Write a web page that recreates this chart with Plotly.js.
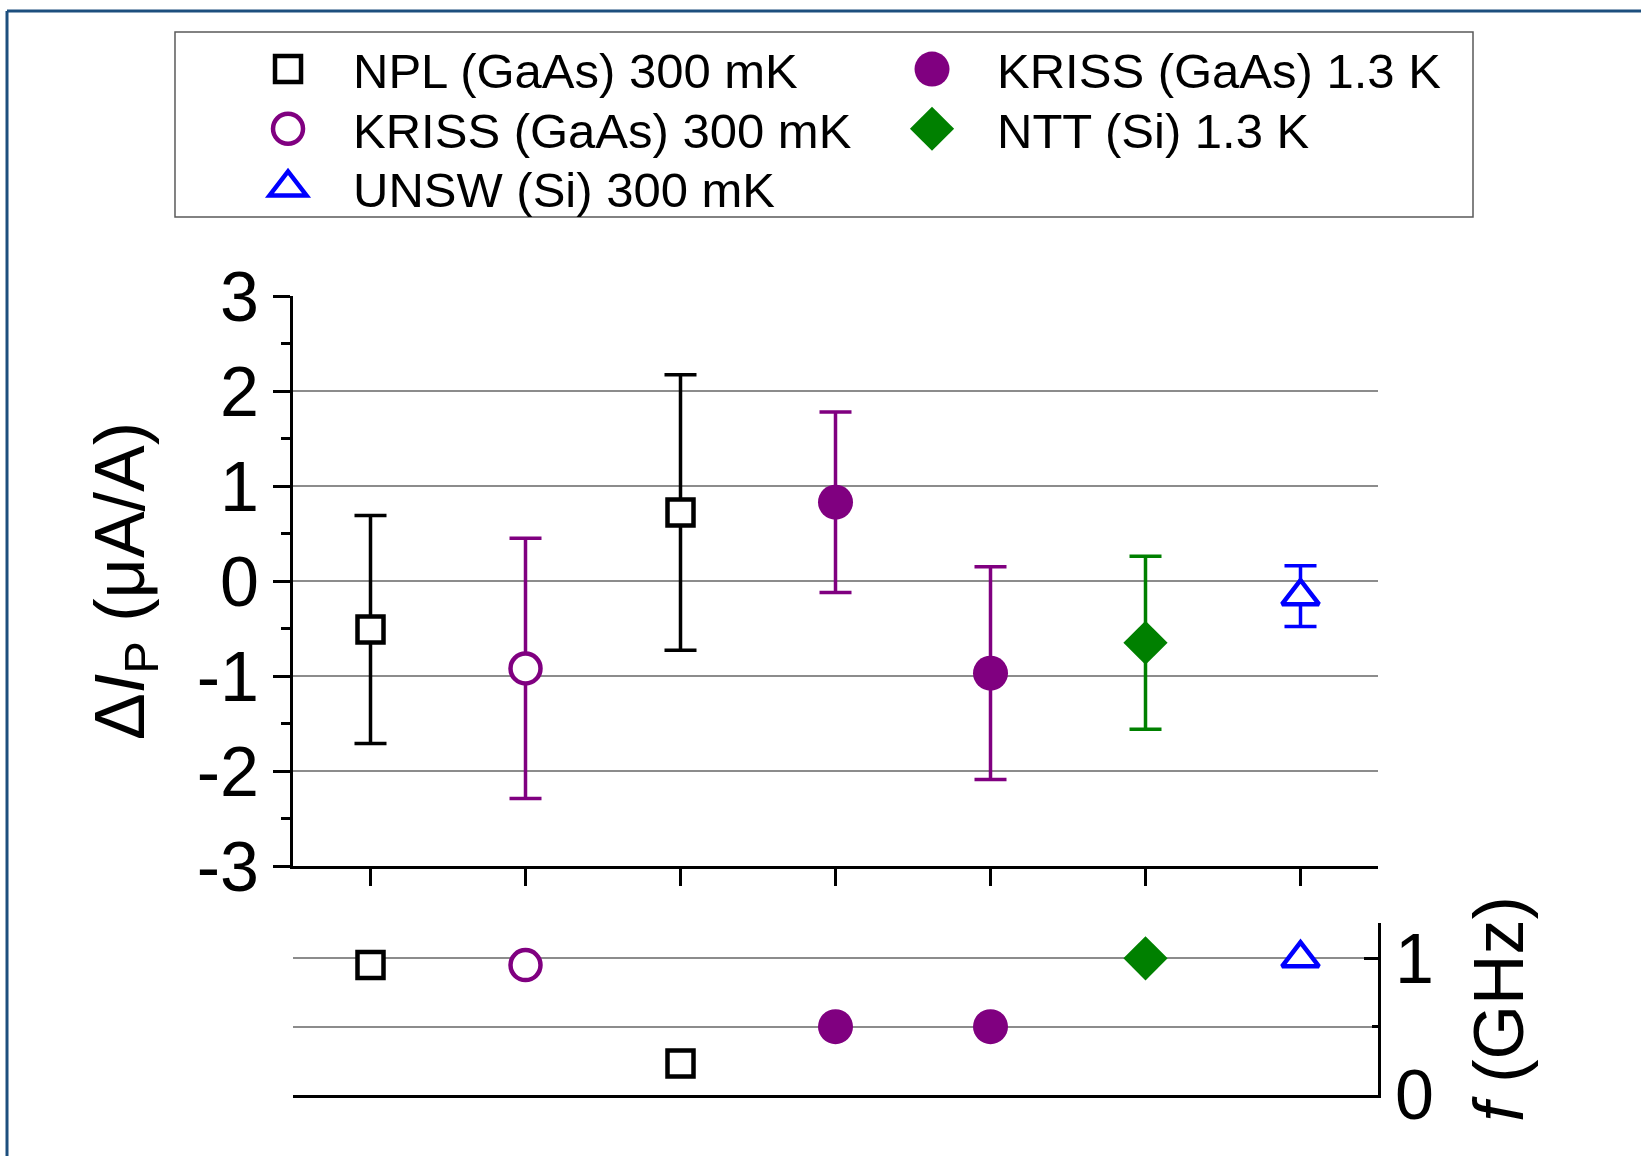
<!DOCTYPE html>
<html>
<head>
<meta charset="utf-8">
<script src="https://cdn.plot.ly/plotly-3.0.1.min.js"></script>
<style>
  html, body { margin: 0; padding: 0; background: #fff; }
  #chart { width: 1641px; height: 1156px; }
</style>
</head>
<body>
<div id="chart"></div>
<script>
// ---- data ----
var seriesNames = ['NPL (GaAs) 300 mK', 'KRISS (GaAs) 1.3 K', 'KRISS (GaAs) 300 mK', 'NTT (Si) 1.3 K', 'UNSW (Si) 300 mK'];

var nplX = [0, 2];
var nplDI = [-0.51, 0.72];
var nplErr = [1.20, 1.45];
var nplF = [0.95, 0.23];

var kriss13X = [3, 4];
var kriss13DI = [0.83, -0.97];
var kriss13Err = [0.95, 1.12];
var kriss13F = [0.5, 0.5];

var kriss300X = [1];
var kriss300DI = [-0.92];
var kriss300Err = [1.37];
var kriss300F = [0.95];

var nttX = [5];
var nttDI = [-0.65];
var nttErr = [0.91];
var nttF = [1.0];

var unswX = [6];
var unswDI = [-0.16];
var unswErr = [0.32];
var unswF = [1.0];

var categoryTicks = [0, 1, 2, 3, 4, 5, 6];
var diTicks = [-3, -2, -1, 0, 1, 2, 3];
var diTickText = ['-3', '-2', '-1', '0', '1', '2', '3'];
var fTicks = [0, 1];
var fTickText = ['0', '1'];
var fMinorTicks = [0.5];

// ---- styles ----
var FONT = '"Liberation Sans", Arial, sans-serif';
var PURPLE = '#800080', GREEN = '#008000', BLUE = '#0000ff', BLACK = '#000000';

var styles = [
  {x: nplX, y: nplDI, e: nplErr, f: nplF, color: BLACK, legend: 'legend',
   marker: {symbol: 'square', size: 26, color: '#ffffff', line: {color: BLACK, width: 4.5}}},
  {x: kriss13X, y: kriss13DI, e: kriss13Err, f: kriss13F, color: PURPLE, legend: 'legend',
   marker: {symbol: 'circle', size: 35, color: PURPLE, line: {color: PURPLE, width: 0}}},
  {x: kriss300X, y: kriss300DI, e: kriss300Err, f: kriss300F, color: PURPLE, legend: 'legend2',
   marker: {symbol: 'circle', size: 30, color: '#ffffff', line: {color: PURPLE, width: 4.5}}},
  {x: nttX, y: nttDI, e: nttErr, f: nttF, color: GREEN, legend: 'legend2',
   marker: {symbol: 'diamond', size: 34, color: GREEN, line: {color: GREEN, width: 0}}},
  {x: unswX, y: unswDI, e: unswErr, f: unswF, color: BLUE, legend: 'legend3',
   marker: {symbol: 'triangle-up', size: 32, color: '#ffffff', line: {color: BLUE, width: 4.5}}}
];

var traces = [];
styles.forEach(function (s, i) {
  traces.push({
    type: 'scatter', mode: 'markers', name: seriesNames[i],
    x: s.x, y: s.y, xaxis: 'x', yaxis: 'y',
    marker: s.marker, showlegend: false, cliponaxis: false,
    error_y: {type: 'data', array: s.e, visible: true, color: s.color, thickness: 3.5, width: 16}
  });
});
styles.forEach(function (s, i) {
  traces.push({
    type: 'scatter', mode: 'markers', name: seriesNames[i],
    x: s.x, y: s.f, xaxis: 'x2', yaxis: 'y2', legend: s.legend,
    marker: s.marker, showlegend: true, cliponaxis: false
  });
});

var gridColor = '#8c8c8c';

function legendRow(y) {
  return {
    orientation: 'h', x: -0.0645, xanchor: 'left', y: y, yanchor: 'top',
    font: {family: FONT, size: 49, color: '#000'},
    bgcolor: 'rgba(0,0,0,0)', borderwidth: 0,
    itemwidth: 120, entrywidth: 509, entrywidthmode: 'pixels',
    traceorder: 'normal', itemclick: false, itemdoubleclick: false
  };
}

var layout = {
  width: 1641, height: 1156,
  paper_bgcolor: '#ffffff', plot_bgcolor: 'rgba(0,0,0,0)',
  font: {family: FONT, color: '#000', size: 48},
  margin: {l: 293, r: 263, t: 296, b: 61, autoexpand: false},
  showlegend: true,
  legend: legendRow(1.332),
  legend2: legendRow(1.2573),
  legend3: legendRow(1.1839),
  xaxis: {
    domain: [0, 1], range: [-0.5, 6.5], anchor: 'y',
    tickmode: 'array', tickvals: categoryTicks, showticklabels: false,
    ticks: 'outside', ticklen: 17, tickwidth: 3, tickcolor: '#000',
    showline: true, linewidth: 3, linecolor: '#000',
    showgrid: false, zeroline: false, fixedrange: true
  },
  yaxis: {
    domain: [0.2866, 1], range: [-3, 3], anchor: 'x',
    tickmode: 'array', tickvals: diTicks, ticktext: diTickText,
    ticks: 'outside', ticklen: 17, tickwidth: 3, tickcolor: '#000',
    minor: {dtick: 0.5, tick0: 0.5, ticks: 'outside', ticklen: 9, tickwidth: 3, tickcolor: '#000', showgrid: false},
    tickfont: {family: FONT, size: 70, color: '#000'},
    showline: true, linewidth: 3, linecolor: '#000',
    showgrid: true, gridcolor: gridColor, gridwidth: 2, zeroline: false,
    title: {text: 'Δ<i>I</i><sub>P</sub> (μA/A)', font: {family: FONT, size: 70, color: '#000'}, standoff: 30},
    fixedrange: true
  },
  xaxis2: {
    domain: [0, 1], range: [-0.5, 6.5], anchor: 'y2', matches: 'x',
    showticklabels: false, ticks: '',
    showline: true, linewidth: 3, linecolor: '#000',
    showgrid: false, zeroline: false, fixedrange: true
  },
  yaxis2: {
    domain: [0, 0.2156], range: [0, 1.26], anchor: 'x2', side: 'right',
    tickmode: 'array', tickvals: fTicks, ticktext: fTickText,
    ticks: 'inside', ticklen: 14, tickwidth: 3, tickcolor: '#000',
    minor: {tickmode: 'array', tickvals: fMinorTicks, ticks: 'inside', ticklen: 6, tickwidth: 3, tickcolor: '#000', showgrid: true, gridcolor: gridColor, gridwidth: 2},
    tickfont: {family: FONT, size: 70, color: '#000'},
    showline: true, linewidth: 3, linecolor: '#000',
    showgrid: true, gridcolor: gridColor, gridwidth: 2, zeroline: false,
    title: {text: '<i>f</i> (GHz)', font: {family: FONT, size: 70, color: '#000'}, standoff: 42},
    fixedrange: true
  },
  shapes: [
    {type: 'rect', xref: 'paper', yref: 'paper', x0: -0.10876, x1: 1.08756, y0: 1.0989, y1: 1.3304,
     line: {color: '#5a5a5a', width: 1.5}, fillcolor: 'rgba(0,0,0,0)', layer: 'below'},
    {type: 'line', xref: 'paper', yref: 'paper', x0: -0.26359, x1: 1.26, y0: 1.3567, y1: 1.3567,
     line: {color: '#1d4f7e', width: 3}},
    {type: 'line', xref: 'paper', yref: 'paper', x0: -0.26359, x1: -0.26359, y0: 1.3567, y1: -0.09,
     line: {color: '#1d4f7e', width: 3}}
  ]
};

Plotly.newPlot('chart', traces, layout, {displayModeBar: false, staticPlot: true}).then(function (gd) {
  // enlarge legend symbols to match the plotted marker sizes
  gd.querySelectorAll('.legendpoints').forEach(function (lp) {
    var g = lp.parentNode;
    while (g && !(g.__data__ && g.__data__[0] && g.__data__[0].trace)) g = g.parentNode;
    if (!g) return;
    var tr = g.__data__[0].trace;
    var s = tr.marker.size / 16;
    var lw = (tr.marker.line && tr.marker.line.width) || 0;
    lp.querySelectorAll('path.scatterpts').forEach(function (p) {
      var t = p.getAttribute('transform') || '';
      p.setAttribute('transform', t + ' scale(' + s + ')');
      p.style.vectorEffect = 'non-scaling-stroke';
      p.style.strokeWidth = lw + 'px';
    });
  });
});
</script>
</body>
</html>
